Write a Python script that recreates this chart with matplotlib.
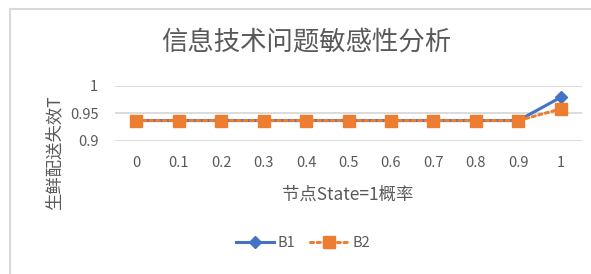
import matplotlib
matplotlib.use("Agg")
import matplotlib.pyplot as plt
from matplotlib.lines import Line2D

plt.rcParams['font.family'] = ['Noto Sans CJK SC', 'DejaVu Sans']

categories = ['0', '0.1', '0.2', '0.3', '0.4', '0.5', '0.6', '0.7', '0.8', '0.9', '1']
b1 = [0.937, 0.937, 0.937, 0.937, 0.937, 0.937, 0.937, 0.937, 0.937, 0.937, 0.979]
b2 = [0.937, 0.937, 0.937, 0.937, 0.937, 0.937, 0.937, 0.937, 0.937, 0.937, 0.958]
yticks = [0.9, 0.95, 1.0]
ytick_labels = ['0.9', '0.95', '1']

W, H = 591, 274
fig = plt.figure(figsize=(W / 100, H / 100), dpi=100)
fig.patch.set_facecolor('white')

# chart border (left and top visible)
fig.add_artist(Line2D([10 / W, 10 / W], [0, 1 - 9 / H], color='#d9d9d9', lw=1.5, transform=fig.transFigure))
fig.add_artist(Line2D([10 / W, 1], [1 - 9 / H, 1 - 9 / H], color='#d9d9d9', lw=1.5, transform=fig.transFigure))

left, right = 115 / W, 582 / W
top, bottom = 1 - 85.7 / H, 1 - 141 / H
ax = fig.add_axes([left, bottom, right - left, top - bottom])

x = list(range(len(categories)))
ax.plot(x, b1, color='#4472C4', lw=2.2, marker='D', markersize=6.5, label='B1', zorder=3)
ax.plot(x, b2, color='#ED7D31', lw=2.2, linestyle=(0, (1, 1.2)), marker='s', markersize=8.5,
        label='B2', zorder=4, dash_capstyle='round')

ax.set_xlim(-0.5, len(categories) - 0.5)
ax.set_ylim(0.9, 1.0)
ax.set_yticks(yticks)
ax.set_yticklabels(ytick_labels)
ax.set_xticks(x)
ax.set_xticklabels(categories)
ax.yaxis.grid(True, color='#d9d9d9', lw=1.3)
ax.set_axisbelow(True)
for s in ax.spines.values():
    s.set_visible(False)
ax.tick_params(axis='both', length=0, colors='#595959', labelsize=10.5)
ax.tick_params(axis='x', pad=11)
ax.tick_params(axis='y', pad=12)
ax.set_facecolor('none')

fig.text(348 / W, 1 - 195 / H, '节点State=1概率', ha='center', va='center', fontsize=12.5,
         color='#595959', fontweight='light')
fig.text(54 / W, 1 - 153 / H, '生鲜配送失效T', ha='center', va='center', rotation=90, fontsize=12.5,
         color='#595959', fontweight='light')
fig.text(306 / W, 1 - 42 / H, '信息技术问题敏感性分析', ha='center', va='center', fontsize=19,
         color='#595959', fontweight='light')

leg = fig.legend(*ax.get_legend_handles_labels(), loc='center', bbox_to_anchor=(303 / W, 1 - 243 / H),
                 ncol=2, frameon=False, fontsize=10.5, handlelength=2.6, columnspacing=1.0, handletextpad=0.3)
for t in leg.get_texts():
    t.set_color('#595959')

fig.savefig('out.png', dpi=100, facecolor='white')
